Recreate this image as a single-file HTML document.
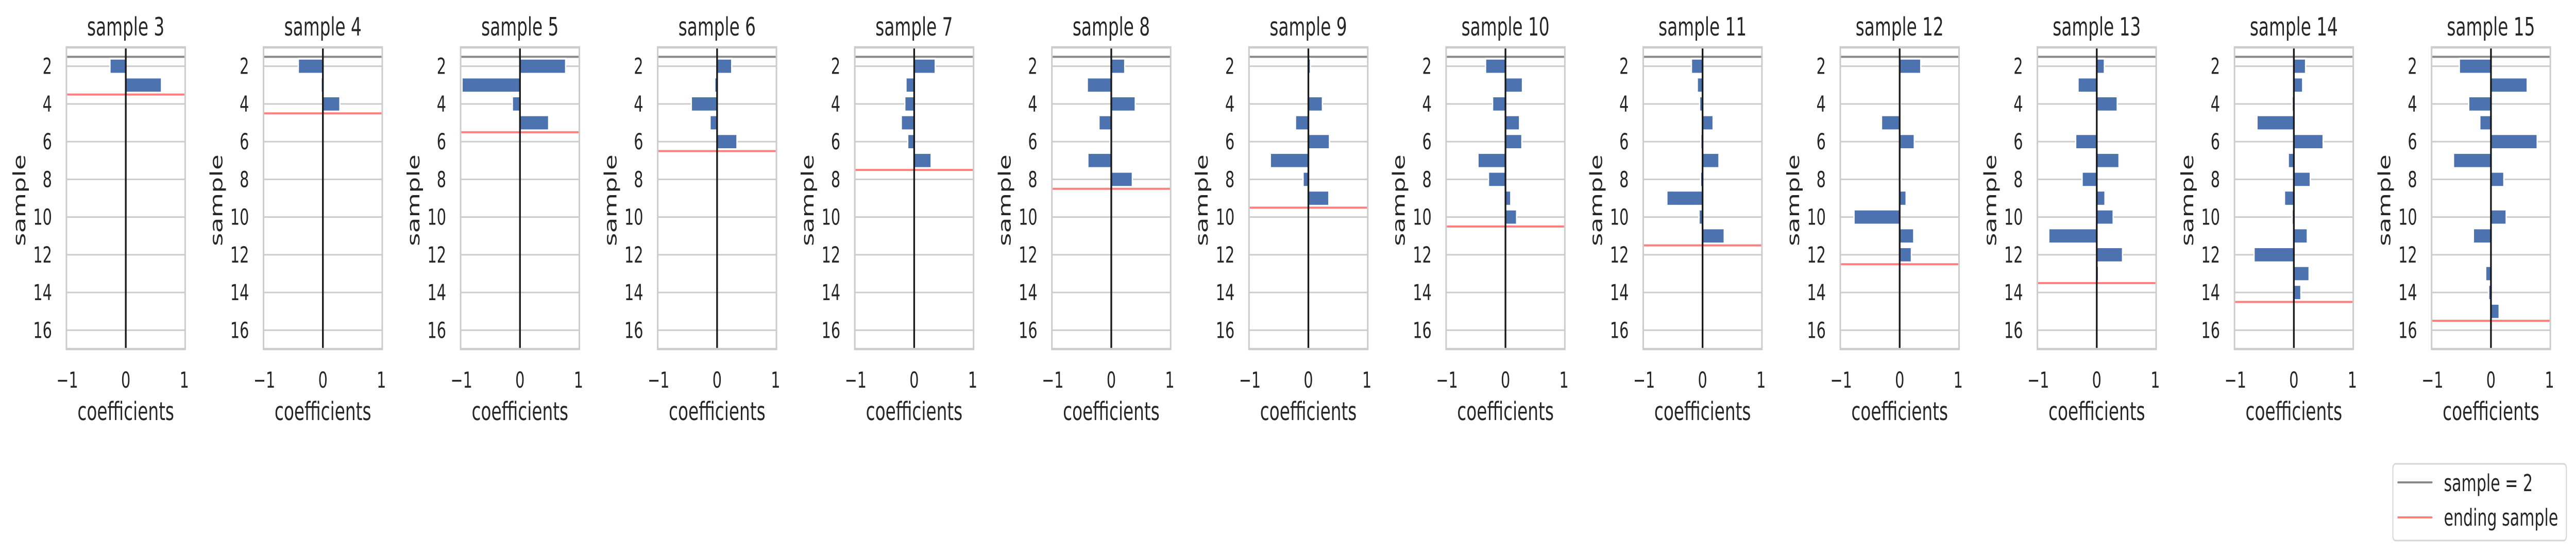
<!DOCTYPE html>
<html><head><meta charset="utf-8"><title>coefficients per sample</title>
<style>html,body{margin:0;padding:0;background:#fff;overflow:hidden}svg{display:block;width:100vw;height:100vh}text{font-family:"DejaVu Sans","Liberation Sans",sans-serif;fill:#262626}</style>
</head><body>
<svg id="chart" xmlns="http://www.w3.org/2000/svg" viewBox="0 0 7485 1080" preserveAspectRatio="none">
<g id="panels"></g>
<g id="legend">
  <rect x="6953" y="901" width="504" height="149" rx="8" fill="#fff" stroke="#d6d6d6" stroke-width="3"/>
  <line x1="6968" y1="937" x2="7066" y2="937" stroke="#888" stroke-width="4" stroke-linecap="round"/>
  <text x="7101" y="954" font-size="45">sample = 2</text>
  <line x1="6968" y1="1005" x2="7066" y2="1005" stroke="#ff7f7f" stroke-width="4" stroke-linecap="round"/>
  <text x="7101" y="1021" font-size="45">ending sample</text>
</g>
</svg>
<script>
const sampleIds = [3,4,5,6,7,8,9,10,11,12,13,14,15];
const coef3 = [-0.27, 0.61];
const coef4 = [-0.42, -0.03, 0.29];
const coef5 = [0.78, -0.99, -0.13, 0.49];
const coef6 = [0.25, -0.04, -0.44, -0.12, 0.34];
const coef7 = [0.36, -0.14, -0.16, -0.22, -0.11, 0.29];
const coef8 = [0.23, -0.41, 0.41, -0.21, -0.02, -0.40, 0.36];
const coef9 = [0.035, 0.0, 0.24, -0.22, 0.36, -0.65, -0.09, 0.35];
const coef10 = [-0.34, 0.29, -0.22, 0.24, 0.28, -0.47, -0.29, 0.09, 0.19];
const coef11 = [-0.19, -0.09, -0.05, 0.18, -0.03, 0.28, -0.035, -0.61, -0.06, 0.37];
const coef12 = [0.36, 0.0, 0.01, -0.31, 0.25, 0.0, 0.02, 0.11, -0.78, 0.24, 0.20];
const coef13 = [0.13, -0.32, 0.35, 0.0, -0.36, 0.38, -0.25, 0.14, 0.28, -0.82, 0.44, 0.03];
const coef14 = [0.20, 0.15, -0.03, -0.63, 0.50, -0.095, 0.28, -0.16, -0.03, 0.23, -0.68, 0.26, 0.12];
const coef15 = [-0.54, 0.62, -0.38, -0.19, 0.79, -0.64, 0.22, 0.0, 0.26, -0.30, 0.0, -0.09, -0.04, 0.14];
const coefSets = [coef3, coef4, coef5, coef6, coef7, coef8, coef9, coef10, coef11, coef12, coef13, coef14, coef15];
const yTicks = [2,4,6,8,10,12,14,16];
const xTicks = [-1,0,1];
const xTickLabels = ["\u22121","0","1"];
const firstSample = 2;

const NS = "http://www.w3.org/2000/svg";
const root = document.getElementById('panels');
const P0 = 193, STEP = 572.7, PW = 345, TOP = 92, BOT = 678;
const Y0 = 1, Y1 = 17;
function mk(tag, attrs, parent){const e=document.createElementNS(NS,tag);for(const k in attrs)e.setAttribute(k,attrs[k]);parent.appendChild(e);return e;}

sampleIds.forEach((sid, i) => {
  const L = P0 + STEP*i;
  const xs = v => L + 2.5 + (v + 1) / 2 * (PW - 5);
  const ys = v => TOP + (v - Y0) / (Y1 - Y0) * (BOT - TOP);
  const g = mk('g', {}, root);
  
  
  const bg = mk('rect', {x:L, y:TOP, width:PW, height:BOT-TOP, fill:'#fff'}, g);
  
  
  yTicks.forEach(t => {
    const gl = mk('line', {x1:L, x2:L+PW, y1:ys(t), y2:ys(t), stroke:'#cccccc', 'stroke-width':3}, g);
    
    
    const tl = mk('text', {x:L-42, y:ys(t)+15, 'font-size':43, 'text-anchor':'end'}, g);
    tl.textContent = String(t);
    
    
  });
  const gray = mk('line', {x1:L, x2:L+PW, y1:ys(firstSample-0.5), y2:ys(firstSample-0.5), stroke:'#888', 'stroke-width':4}, g);
  
  
  const coefs = coefSets[i];
  coefs.forEach((c, j) => {
    const s = firstSample + j;
    const x0 = xs(Math.min(0, c)), x1 = xs(Math.max(0, c));
    const b = mk('rect', {x:x0, y:ys(s-0.4), width:Math.max(0.01, x1-x0), height:ys(s+0.4)-ys(s-0.4), fill:'#4c72b0', stroke:'#fff', 'stroke-width':3.6}, g);
    
    
  });
  const red = mk('line', {x1:L, x2:L+PW, y1:ys(sid+0.5), y2:ys(sid+0.5), stroke:'#ff7f7f', 'stroke-width':4}, g);
  
  
  const zl = mk('line', {x1:xs(0), x2:xs(0), y1:TOP, y2:BOT, stroke:'#1a1a1a', 'stroke-width':5}, g);
  
  
  const fr = mk('rect', {x:L, y:TOP, width:PW, height:BOT-TOP, fill:'none', stroke:'#cccccc', 'stroke-width':4.5}, g);
  
  
  xTicks.forEach((t, k) => {
    const xl = mk('text', {x:xs(t), y:753, 'font-size':43, 'text-anchor':'middle'}, g);
    xl.textContent = xTickLabels[k];
    
    
  });
  const xt = mk('text', {x:L+PW/2, y:816, 'font-size':49, 'text-anchor':'middle'}, g);
  xt.textContent = 'coefficients';
  
  
  const yt = mk('text', {x:0, y:0, 'font-size':49, 'text-anchor':'middle', transform:'translate(' + (L-120) + ',389) rotate(-90)'}, g);
  yt.textContent = 'sample';
  
  
  const tt = mk('text', {x:L+PW/2, y:69, 'font-size':49, 'text-anchor':'middle'}, g);
  tt.textContent = 'sample ' + sid;
  
  
});
</script>
</body></html>
